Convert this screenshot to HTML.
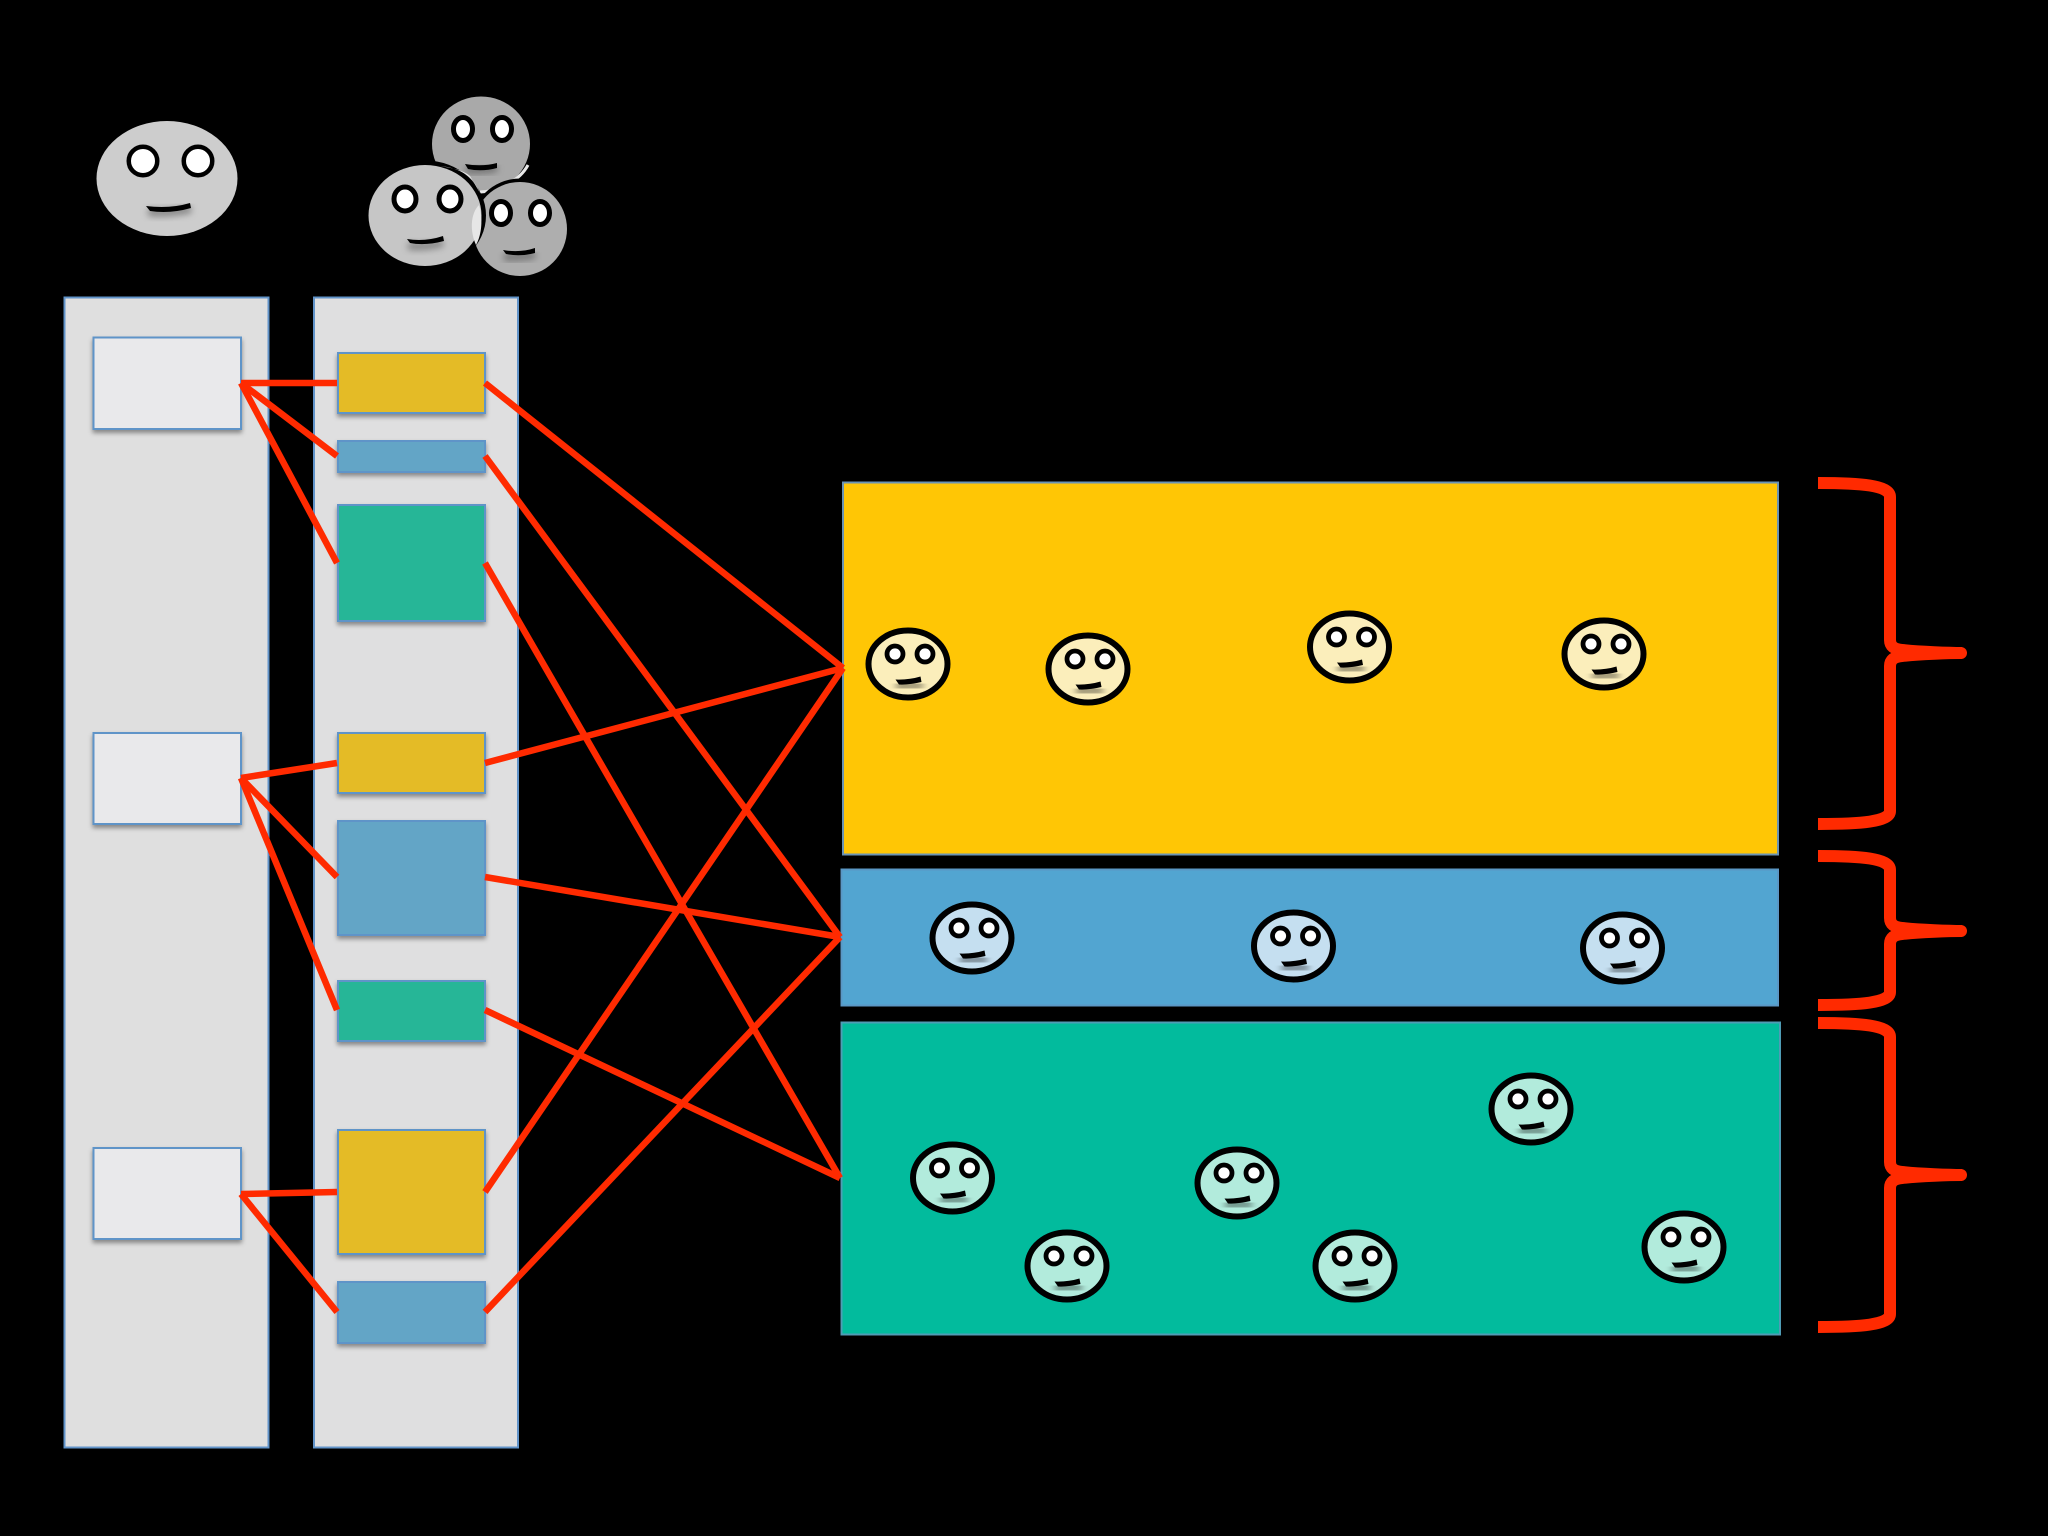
<!DOCTYPE html>
<html>
<head>
<meta charset="utf-8">
<style>
html,body{margin:0;padding:0;background:#000}
svg{display:block}
</style>
</head>
<body>
<svg xmlns="http://www.w3.org/2000/svg" width="2048" height="1536" viewBox="0 0 2048 1536">
<defs>
  <filter id="sh" x="-20%" y="-20%" width="140%" height="140%"><feDropShadow dx="0" dy="3" stdDeviation="2.5" flood-color="#000" flood-opacity=".4"/></filter>
  <filter id="ms" x="-40%" y="-150%" width="180%" height="500%"><feGaussianBlur stdDeviation="3.5"/></filter>
  <g id="face">
    <ellipse cx="0" cy="0" rx="39.500" ry="33.500" stroke="#000" stroke-width="6"/>
    <path d="M-12 22 L15 21" stroke="#000" stroke-opacity=".4" stroke-width="9" fill="none" filter="url(#ms)"/>
    <circle cx="-13" cy="-10" r="8" fill="#fff" stroke="#000" stroke-width="4.800"/>
    <circle cx="17" cy="-10" r="8" fill="#fff" stroke="#000" stroke-width="4.800"/>
    <path d="M-12.500 15.500 Q1 16 12.500 12.500 L13.500 18 Q1 21 -9 20.500 Z" fill="#000"/>
  </g>
</defs>
<rect width="2048" height="1536" fill="#000"/>

<!-- panels -->
<rect x="64.500" y="297.500" width="204" height="1150" fill="#dfdfdf" stroke="#6193c9" stroke-width="2"/>
<rect x="314" y="297.500" width="204" height="1150" fill="#dfdfe0" stroke="#6193c9" stroke-width="2"/>

<g stroke="#5f94c8" stroke-width="2" filter="url(#sh)">
  <rect x="93.500" y="337.500" width="147.500" height="91.500" fill="#e9e9eb"/>
  <rect x="93.500" y="733" width="147.500" height="91" fill="#e9e9eb"/>
  <rect x="93.500" y="1148" width="147.500" height="91" fill="#e9e9eb"/>
  <rect x="338" y="353" width="147" height="60" fill="#e4bb28"/>
  <rect x="338" y="441" width="147" height="31" fill="#63a5c6"/>
  <rect x="338" y="505" width="147" height="116" fill="#25b697"/>
  <rect x="338" y="733" width="147" height="60" fill="#e4bb28"/>
  <rect x="338" y="821" width="147" height="114" fill="#63a5c6"/>
  <rect x="338" y="981" width="147" height="60" fill="#25b697"/>
  <rect x="338" y="1130" width="147" height="124" fill="#e4bb28"/>
  <rect x="338" y="1282" width="147" height="61" fill="#63a5c6"/>
</g>

<!-- big bands -->
<rect x="843" y="482.500" width="935" height="372" fill="#ffc605" stroke="#6a93b5" stroke-width="2"/>
<rect x="841.500" y="869.500" width="936.500" height="136" fill="#52a5d1" stroke="#5a97c5" stroke-width="2"/>
<rect x="841.500" y="1022.500" width="938.500" height="312" fill="#02bb9d" stroke="#4f9cb5" stroke-width="2"/>

<!-- connectors -->
<g stroke="#ff2a00" stroke-width="6.500" fill="none" stroke-linecap="butt">
  <path d="M241 383 L337 383"/>
  <path d="M241 383 L337 456"/>
  <path d="M241 383 L337 563"/>
  <path d="M241 778 L337 763"/>
  <path d="M241 778 L337 877"/>
  <path d="M241 778 L337 1010"/>
  <path d="M241 1194 L337 1192"/>
  <path d="M241 1194 L337 1312"/>
  <path d="M485 383 L843 668"/>
  <path d="M485 456 L840 937"/>
  <path d="M485 563 L840 1178"/>
  <path d="M485 763 L843 668"/>
  <path d="M485 877 L840 937"/>
  <path d="M485 1010 L840 1178"/>
  <path d="M485 1192 L843 668"/>
  <path d="M485 1312 L840 937"/>
</g>

<!-- braces -->
<g fill="none" stroke="#ff2a00" stroke-linejoin="round">
  <path d="M1818 483 C1860 483 1890 485 1890 497 L1890 640 Q1890 649 1902 650 C1920 652 1950 653 1962 653" stroke-width="12"/>
  <path d="M1818 824 C1860 824 1890 822 1890 811 L1890 666 Q1890 657 1902 656 C1920 654 1950 653 1962 653" stroke-width="12"/>
  <path d="M1818 856 C1860 856 1890 858 1890 870 L1890 918 Q1890 927 1902 928 C1920 930 1950 931 1962 931" stroke-width="12"/>
  <path d="M1818 1005 C1860 1005 1890 1003 1890 992 L1890 944 Q1890 935 1902 934 C1920 932 1950 931 1962 931" stroke-width="12"/>
  <path d="M1818 1023 C1860 1023 1890 1025 1890 1037 L1890 1162 Q1890 1171 1902 1172 C1920 1174 1950 1175 1962 1175" stroke-width="12"/>
  <path d="M1818 1327 C1860 1327 1890 1325 1890 1314 L1890 1188 Q1890 1179 1902 1178 C1920 1176 1950 1175 1962 1175" stroke-width="12"/>
</g>
<g fill="#ff2a00">
  <rect x="1945" y="647" width="22" height="12" rx="6"/>
  <rect x="1945" y="925" width="22" height="12" rx="6"/>
  <rect x="1945" y="1169" width="22" height="12" rx="6"/>
</g>

<!-- band faces -->
<g fill="#fbeebb">
  <use href="#face" x="908" y="664"/>
  <use href="#face" x="1088" y="669"/>
  <use href="#face" x="1349.500" y="647"/>
  <use href="#face" x="1604" y="654"/>
</g>
<g fill="#c5dff0">
  <use href="#face" x="972" y="938"/>
  <use href="#face" x="1293.500" y="946"/>
  <use href="#face" x="1622.500" y="948"/>
</g>
<g fill="#b2ebdc">
  <use href="#face" x="952.500" y="1178"/>
  <use href="#face" x="1067" y="1266"/>
  <use href="#face" x="1237" y="1183"/>
  <use href="#face" x="1355" y="1266"/>
  <use href="#face" x="1531" y="1109"/>
  <use href="#face" x="1684" y="1247"/>
</g>

<!-- single gray face -->
<ellipse cx="167" cy="178.500" rx="70.500" ry="57.500" fill="#cdcdcd"/>
<path d="M148 212 Q170 214 191 209" stroke="#000" stroke-opacity=".35" stroke-width="8" fill="none" filter="url(#ms)"/>
<circle cx="143" cy="161" r="14.250" fill="#fff" stroke="#000" stroke-width="4.500"/>
<circle cx="198" cy="161" r="14.250" fill="#fff" stroke="#000" stroke-width="4.500"/>
<path d="M146 206 Q170 209 190 203 L191 208 Q170 214 150 211 Z" fill="#000"/>

<!-- gray group -->
<ellipse cx="481" cy="144" rx="49" ry="47.500" fill="#a9a9a9"/>
<path d="M480 192 C500 191 520 180 528 165" stroke="#e8e8e8" stroke-width="3" fill="none"/>
<path d="M466 170 Q482 171 497 168" stroke="#000" stroke-opacity=".35" stroke-width="7" fill="none" filter="url(#ms)"/>
<ellipse cx="463" cy="129" rx="9.500" ry="11.500" fill="#fff" stroke="#000" stroke-width="5"/>
<ellipse cx="502" cy="129" rx="9.500" ry="11.500" fill="#fff" stroke="#000" stroke-width="5"/>
<path d="M465 164 Q482 167 497 163 L497 168 Q482 172 468 169 Z" fill="#000"/>

<ellipse cx="520" cy="229" rx="50" ry="50.500" fill="#000"/>
<ellipse cx="520" cy="229" rx="47" ry="47" fill="#aeaeae"/>
<path d="M504 257 Q520 258 535 255" stroke="#000" stroke-opacity=".35" stroke-width="7" fill="none" filter="url(#ms)"/>
<ellipse cx="501" cy="213" rx="9.500" ry="11.500" fill="#fff" stroke="#000" stroke-width="5"/>
<ellipse cx="540" cy="213" rx="9.500" ry="11.500" fill="#fff" stroke="#000" stroke-width="5"/>
<path d="M503 250 Q520 253 535 248 L535 253 Q520 257 506 254 Z" fill="#000"/>

<ellipse cx="425" cy="215.500" rx="61" ry="55" fill="#000"/>
<ellipse cx="425" cy="215.500" rx="56.500" ry="50.500" fill="#c6c6c6"/>
<path d="M470 176 C463 170 452 168 440 166 C462 168 474 178 480 193 Z" fill="#e6e6e6"/>
<path d="M479 205 C470 214 470 232 476 245 C482 234 483 218 479 205 Z" fill="#e6e6e6"/>
<path d="M408 246 Q425 248 443 243" stroke="#000" stroke-opacity=".35" stroke-width="7" fill="none" filter="url(#ms)"/>
<ellipse cx="405" cy="199" rx="11" ry="12" fill="#fff" stroke="#000" stroke-width="5"/>
<ellipse cx="450" cy="199" rx="11" ry="12" fill="#fff" stroke="#000" stroke-width="5"/>
<path d="M407 239 Q425 242 443 236 L444 241 Q425 246 410 243 Z" fill="#000"/>
</svg>
</body>
</html>
